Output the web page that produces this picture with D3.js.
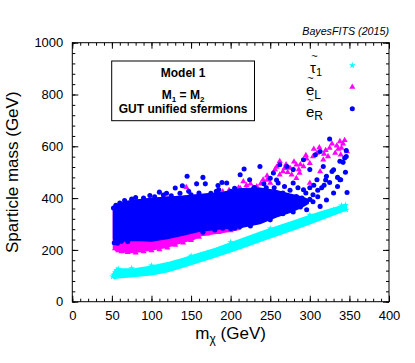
<!DOCTYPE html>
<html>
<head>
<meta charset="utf-8">
<script src="https://cdn.jsdelivr.net/npm/d3@7"></script>
<style>
    body { margin: 0; background: #fff; }
    svg text { font-family: "Liberation Sans", Arial, Helvetica, sans-serif; }
</style>
</head>
<body>
<div id="chart"></div>
<script>
// Axis ticks
const xTickValues = [0, 50, 100, 150, 200, 250, 300, 350, 400];
const yTickValues = [0, 200, 400, 600, 800, 1000];

// Dense cores: neutralino mass, lower and upper sparticle mass
const stauBandMchi = [51, 53, 58, 70, 80, 100, 120, 140, 160, 180, 200, 220, 240, 260, 280, 300, 320, 340, 346];
const stauBandLow = [95, 90, 92, 95, 98, 104, 116, 134, 153, 172, 193, 214, 236, 257, 279, 301, 324, 347, 355];
const stauBandHigh = [100, 118, 126, 126, 127, 137, 150, 167, 186, 205, 227, 249, 271, 291, 312, 333, 352, 370, 374];

const selLCoreMchi = [52, 56, 65, 77, 98, 119, 140, 153, 161, 191, 212];
const selLCoreLow = [205, 196, 192, 190, 199, 210, 230, 240, 255, 268, 280];
const selLCoreHigh = [360, 370, 380, 390, 398, 403, 407, 410, 413, 420, 435];

const selRCoreMchi = [52, 53, 60, 70, 85, 100, 120, 140, 160, 190, 212, 237, 258, 275, 290, 298];
const selRCoreLow = [242, 232, 232, 236, 236, 234, 244, 257, 272, 283, 286, 302, 328, 345, 365, 380];
const selRCoreHigh = [355, 368, 378, 388, 394, 398, 403, 407, 413, 422, 436, 438, 428, 415, 404, 394];

// Single points around the cores [neutralino mass, sparticle mass]
const stauPoints = [
    [51, 97], [52, 104], [54, 112], [56, 122], [58, 127], [75, 129], [100, 139], [150, 177],
    [200, 229], [250, 282], [300, 335], [330, 355], [342, 361], [346, 355], [345, 373], [340, 371]
];

const selLPoints = [
    [344, 623], [338, 619], [334, 602], [325, 593], [332, 574], [323, 561], [317, 548], [309, 574],
    [304, 561], [300, 535], [292, 522], [283, 529], [275, 516], [262, 542], [256, 510], [266, 503],
    [277, 490], [287, 497], [250, 458], [241, 471], [233, 445], [216, 464], [212, 438], [201, 419],
    [300, 458], [313, 503], [283, 477], [347, 580], [340, 593], [339, 567], [190, 425], [198, 430],
    [54, 205], [58, 198], [62, 194], [70, 191], [80, 189], [90, 194], [100, 198], [110, 202],
    [120, 208], [130, 219], [140, 228], [150, 237], [160, 250], [170, 262], [185, 268], [200, 275],
    [144, 442], [210, 440], [225, 455], [246, 486], [270, 530], [296, 552], [320, 585],
    [258, 520], [268, 515], [280, 540], [288, 530], [295, 565], [305, 590], [312, 595], [328, 610],
    [336, 590], [342, 610], [318, 570], [286, 510], [272, 500], [262, 490], [246, 470], [238, 455],
    [228, 440], [220, 450]
];

const selRPoints = [
    [145, 484], [165, 480], [168, 455], [157, 455], [139, 448], [130, 439], [110, 423], [119, 419],
    [184, 449], [195, 458], [182, 426], [147, 426], [136, 419], [60, 381], [66, 391], [75, 396],
    [90, 400], [104, 405], [125, 409], [150, 413], [175, 419], [200, 426], [220, 431], [230, 441],
    [205, 438], [53, 228], [57, 226], [62, 233], [70, 232], [165, 268], [180, 277], [200, 282],
    [225, 292], [250, 316], [266, 340], [279, 346], [288, 366], [296, 355], [304, 386], [313, 368],
    [321, 393], [325, 628], [346, 584], [338, 542], [346, 561], [347, 422], [338, 471], [328, 503],
    [321, 484], [313, 580], [307, 567], [317, 522], [309, 471], [300, 510], [292, 548], [279, 510],
    [271, 522], [262, 529], [254, 497], [260, 458], [237, 522], [212, 490], [217, 512], [189, 460],
    [224, 471], [250, 477], [279, 458], [292, 432], [304, 413], [283, 406], [271, 393], [245, 440],
    [266, 420], [300, 440], [315, 440], [330, 420], [344, 555], [342, 538], [339, 471], [205, 284],
    [212, 290], [190, 284], [330, 509], [318, 450], [310, 430], [325, 460], [335, 445],
    [285, 440], [295, 420], [305, 450], [320, 470], [335, 480], [345, 500], [275, 430], [268, 445],
    [258, 470], [242, 455], [232, 430], [255, 440], [290, 400], [300, 395], [310, 405], [280, 390],
    [290, 380], [98, 410], [80, 402], [160, 420], [185, 432], [115, 412], [55, 372], [52, 362]
];

const legendNames = ["τ", "e", "e"];
const legendSubs = ["1", "L", "R"];

const colours = { stau: "#00ffff", selL: "#ff00ff", selR: "#0000ff" };

const margin = { top: 42.7, right: 26, bottom: 61.3, left: 72.3 };
const outerWidth = 415;
const outerHeight = 363;
const innerWidth = outerWidth - margin.left - margin.right;
const innerHeight = outerHeight - margin.top - margin.bottom;

const svg = d3.select("#chart")
    .append("svg")
    .attr("width", outerWidth)
    .attr("height", outerHeight)
    .append("g")
    .attr("transform", "translate(" + margin.left + "," + margin.top + ")");

const xScale = d3.scaleLinear().domain([0, 400]).range([0, innerWidth]);
const yScale = d3.scaleLinear().domain([0, 1000]).range([innerHeight, 0]);

// Zip the band arrays into rows
const band = (mchi, low, high) => mchi.map((m, i) => [m, low[i], high[i]]);

const area = d3.area()
    .x(d => xScale(d[0]))
    .y0(d => yScale(d[1]))
    .y1(d => yScale(d[2]));

const symbols = {
    stau: d3.symbol().type(d3.symbolStar).size(14),
    selL: d3.symbol().type(d3.symbolTriangle).size(16),
    selR: d3.symbol().type(d3.symbolCircle).size(20)
};

const plot = svg.append("g");

const drawSeries = (key, rows, points) => {
    plot.append("path")
        .datum(rows)
        .attr("d", area)
        .attr("fill", colours[key])
        .attr("stroke", colours[key])
        .attr("stroke-width", 1.5)
        .attr("stroke-linejoin", "round");
    plot.append("g")
        .selectAll("path")
        .data(points)
        .enter()
        .append("path")
        .attr("transform", d => "translate(" + xScale(d[0]) + "," + yScale(d[1]) + ")")
        .attr("d", symbols[key])
        .attr("fill", colours[key]);
};

// Same drawing order as the original: stau, then eL, then eR on top
drawSeries("stau", band(stauBandMchi, stauBandLow, stauBandHigh), stauPoints);
drawSeries("selL", band(selLCoreMchi, selLCoreLow, selLCoreHigh), selLPoints);
drawSeries("selR", band(selRCoreMchi, selRCoreLow, selRCoreHigh), selRPoints);

// Axes, ticks inward on all four sides
const tickStyle = g => {
    g.select(".domain").remove();
    g.selectAll("line").attr("stroke", "#000");
    g.selectAll("text").filter(function () { return this.textContent === ""; }).remove();
    g.selectAll("text").attr("font-size", 13).attr("fill", "#000");
};

svg.append("g")
    .attr("transform", "translate(0," + innerHeight + ")")
    .call(d3.axisBottom(xScale).tickValues(xTickValues).tickSize(-6).tickPadding(9).tickFormat(d3.format("d")))
    .call(tickStyle);
svg.append("g")
    .attr("transform", "translate(0," + innerHeight + ")")
    .call(d3.axisBottom(xScale).tickValues(d3.range(0, 401, 10)).tickSize(-3).tickFormat(""))
    .call(tickStyle);
svg.append("g")
    .call(d3.axisTop(xScale).tickValues(xTickValues).tickSize(-6).tickFormat(""))
    .call(tickStyle);
svg.append("g")
    .call(d3.axisTop(xScale).tickValues(d3.range(0, 401, 10)).tickSize(-3).tickFormat(""))
    .call(tickStyle);

svg.append("g")
    .call(d3.axisLeft(yScale).tickValues(yTickValues).tickSize(-6).tickPadding(9).tickFormat(d3.format("d")))
    .call(tickStyle);
svg.append("g")
    .call(d3.axisLeft(yScale).tickValues(d3.range(0, 1001, 40)).tickSize(-3).tickFormat(""))
    .call(tickStyle);
svg.append("g")
    .attr("transform", "translate(" + innerWidth + ",0)")
    .call(d3.axisRight(yScale).tickValues(yTickValues).tickSize(-6).tickFormat(""))
    .call(tickStyle);
svg.append("g")
    .attr("transform", "translate(" + innerWidth + ",0)")
    .call(d3.axisRight(yScale).tickValues(d3.range(0, 1001, 40)).tickSize(-3).tickFormat(""))
    .call(tickStyle);

svg.append("rect")
    .attr("width", innerWidth)
    .attr("height", innerHeight)
    .attr("fill", "none")
    .attr("stroke", "#000")
    .attr("stroke-width", 1);

// Axis titles
const xTitle = svg.append("text")
    .attr("x", innerWidth / 2)
    .attr("y", innerHeight + 37)
    .attr("text-anchor", "middle")
    .attr("font-size", 17);
xTitle.append("tspan").text("m");
xTitle.append("tspan").attr("font-size", 12).attr("dy", 4).text("χ");
xTitle.append("tspan").attr("dy", -4).text(" (GeV)");

svg.append("text")
    .attr("transform", "translate(" + (17.5 - margin.left) + "," + (innerHeight / 2) + ") rotate(-90)")
    .attr("text-anchor", "middle")
    .attr("font-size", 17)
    .text("Sparticle mass (GeV)");

svg.append("text")
    .attr("x", innerWidth)
    .attr("y", -8)
    .attr("text-anchor", "end")
    .attr("font-size", 10.7)
    .attr("font-style", "italic")
    .text("BayesFITS (2015)");

// Model box
const box = svg.append("g").attr("transform", "translate(" + (111.7 - margin.left) + "," + (61 - margin.top) + ")");
box.append("rect")
    .attr("width", 142.8)
    .attr("height", 59.7)
    .attr("fill", "#fff")
    .attr("stroke", "#000");
box.append("text")
    .attr("x", 71.4).attr("y", 16.3)
    .attr("text-anchor", "middle").attr("font-size", 12).attr("font-weight", "bold")
    .text("Model 1");
const mText = box.append("text")
    .attr("x", 71.4).attr("y", 38.3)
    .attr("text-anchor", "middle").attr("font-size", 12).attr("font-weight", "bold");
mText.append("tspan").text("M");
mText.append("tspan").attr("font-size", 8).attr("dy", 3).text("1");
mText.append("tspan").attr("dy", -3).text(" = M");
mText.append("tspan").attr("font-size", 8).attr("dy", 3).text("2");
box.append("text")
    .attr("x", 71.4).attr("y", 52.3)
    .attr("text-anchor", "middle").attr("font-size", 12).attr("font-weight", "bold")
    .text("GUT unified sfermions");

// Legend
const legendKeys = ["stau", "selL", "selR"];
const legendY = [65.3, 87, 108.7];
const legend = svg.append("g")
    .selectAll("g")
    .data(legendKeys)
    .enter()
    .append("g")
    .attr("transform", (d, i) => "translate(0," + (legendY[i] - margin.top) + ")");

legend.append("path")
    .attr("transform", "translate(" + (352.3 - margin.left) + ",0)")
    .attr("d", d => symbols[d]())
    .attr("fill", d => colours[d]);

const legendText = legend.append("text")
    .attr("x", (d, i) => (i === 0 ? 310 : 306) - margin.left)
    .attr("y", (d, i) => i === 0 ? 7.5 : 8)
    .attr("font-size", 15);
legendText.append("tspan").text((d, i) => legendNames[i]);
legendText.append("tspan")
    .attr("font-size", (d, i) => i === 0 ? 11 : 12)
    .attr("dy", 3.5)
    .text((d, i) => legendSubs[i]);

legend.append("text")
    .attr("x", (d, i) => (i === 0 ? 314.5 : 310.5) - margin.left)
    .attr("y", -5)
    .attr("text-anchor", "middle")
    .attr("font-size", 11)
    .text("~");
</script>
</body>
</html>
